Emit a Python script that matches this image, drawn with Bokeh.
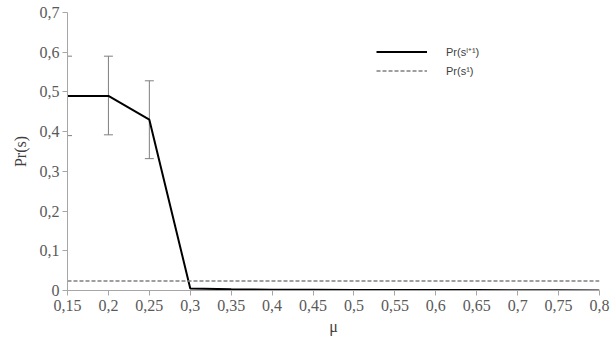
from bokeh.plotting import figure
from bokeh.models import ColumnDataSource, Whisker, TeeHead, FixedTicker, Legend, LegendItem, Range1d
from bokeh.embed import file_html
from bokeh.resources import INLINE

mu = [0.15, 0.2, 0.25, 0.3, 0.35, 0.4, 0.45, 0.5, 0.55, 0.6, 0.65, 0.7, 0.75, 0.8]
pr_next = [0.49, 0.49, 0.43, 0.005, 0.003, 0.002, 0.002, 0.0015, 0.001, 0.001, 0.001, 0.0008, 0.0005, 0.0003]
err_up = [0.59, 0.59, 0.528, None, None, None, None, None, None, None, None, None, None, None]
err_low = [0.39, 0.392, 0.332, None, None, None, None, None, None, None, None, None, None, None]
pr_base = [0.024] * len(mu)

x_ticks = [0.15, 0.2, 0.25, 0.3, 0.35, 0.4, 0.45, 0.5, 0.55, 0.6, 0.65, 0.7, 0.75, 0.8]
x_labels = ["0,15", "0,2", "0,25", "0,3", "0,35", "0,4", "0,45", "0,5", "0,55", "0,6", "0,65", "0,7", "0,75", "0,8"]
y_ticks = [0, 0.1, 0.2, 0.3, 0.4, 0.5, 0.6, 0.7]
y_labels = ["0", "0,1", "0,2", "0,3", "0,4", "0,5", "0,6", "0,7"]

p = figure(width=616, height=339, output_backend="svg", toolbar_location=None,
           x_range=Range1d(0.15, 0.8), y_range=Range1d(0, 0.7),
           min_border_left=67, min_border_right=17, min_border_top=12, min_border_bottom=49)
p.outline_line_color = None
p.grid.visible = False

src = ColumnDataSource(dict(x=mu, y=pr_next, b=pr_base))
e_idx = [i for i, v in enumerate(err_up) if v is not None]
esrc = ColumnDataSource(dict(x=[mu[i] for i in e_idx], up=[err_up[i] for i in e_idx], lo=[err_low[i] for i in e_idx]))

w = Whisker(source=esrc, base="x", upper="up", lower="lo", line_color="#7f7f7f", line_width=1,
            upper_head=TeeHead(size=9, line_color="#7f7f7f", line_width=1),
            lower_head=TeeHead(size=9, line_color="#7f7f7f", line_width=1))
p.add_layout(w)

r1 = p.line("x", "y", source=src, line_color="black", line_width=2)
r2 = p.line("x", "b", source=src, line_color="#808080", line_width=1.5, line_dash="4 2")

for ax in (p.xaxis[0], p.yaxis[0]):
    ax.axis_line_color = "#a6a6a6"
    ax.major_tick_line_color = "#a6a6a6"
    ax.minor_tick_line_color = None
    ax.major_tick_in = 0
    ax.major_tick_out = 5
    ax.major_label_text_font = "Liberation Serif"
    ax.major_label_text_font_size = "16px"
    ax.major_label_text_color = "#595959"
    ax.axis_label_text_font = "Liberation Serif"
    ax.axis_label_text_font_size = "16px"
    ax.axis_label_text_font_style = "normal"
    ax.axis_label_text_color = "#404040"

p.xaxis.ticker = FixedTicker(ticks=x_ticks)
p.xaxis.major_label_overrides = dict(zip(x_ticks, x_labels))
p.yaxis.ticker = FixedTicker(ticks=y_ticks)
p.yaxis.major_label_overrides = dict(zip(y_ticks, y_labels))
p.xaxis.axis_label = "μ"
p.yaxis.axis_label = "Pr(s)"
p.xaxis.major_label_standoff = 4
p.yaxis.major_label_standoff = 3
p.xaxis.axis_label_standoff = 4
p.yaxis.axis_label_standoff = 8

legend = Legend(items=[LegendItem(label="Pr(sˡ⁺¹)", renderers=[r1]),
                       LegendItem(label="Pr(s¹)", renderers=[r2])],
                location=(309, 210), padding=0, margin=0, spacing=0,
                glyph_width=51, glyph_height=19, label_height=19, label_standoff=19,
                border_line_color=None, background_fill_alpha=0,
                label_text_font="Liberation Sans", label_text_font_size="11px",
                label_text_color="#404040")
p.add_layout(legend)

open("out.html", "w").write(file_html(p, INLINE))
